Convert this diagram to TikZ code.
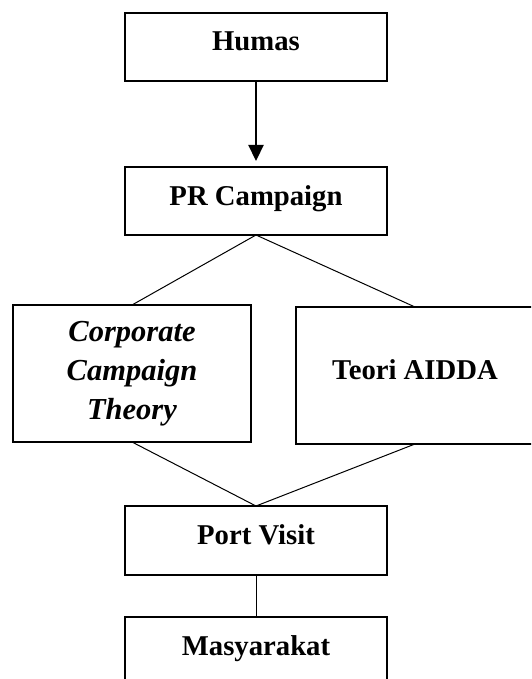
\documentclass[tikz,border=0pt]{standalone}
\usepackage{fontspec}
\setmainfont{Liberation Serif}
\usetikzlibrary{positioning,arrows.meta}

\begin{document}
\begin{tikzpicture}[
    x=1pt, y=-1pt,
    node distance=42pt,
    >={Triangle[width=15pt,length=16pt]},
    line width=1pt
]


\tikzstyle{box}=[
    rectangle,
    draw,
    line width=1.8pt,
    inner sep=0pt,
    outer sep=0pt,
    font=\fontsize{28.7}{38.8}\selectfont\bfseries
]
\tikzstyle{stage}=[
    box,
    minimum width=262pt,
    minimum height=68pt,
    text height=20pt,
    text depth=12pt
]
\tikzstyle{theory}=[
    box,
    minimum width=238pt,
    minimum height=137pt,
    align=center
]


\useasboundingbox (0,0) rectangle (531,679);
\clip (0,0) rectangle (531,679);
\fill[white] (0,0) rectangle (531,679);


\node[stage] (humas) at (256,47) {Humas};
\node[stage, below=86pt of humas] (pr) {PR Campaign};

\node[theory, anchor=north, font=\fontsize{30.5}{39}\selectfont\bfseries\itshape] (corp) at (132,305) {Corporate\\Campaign\\Theory};
\node[theory, anchor=north, text height=20pt, text depth=12pt] (aidda) at (415,307) {Teori AIDDA};

\node[stage, anchor=north, minimum height=69pt] (port) at (256,506) {Port Visit};
\node[stage, below=of port] (masy) {Masyarakat};


\draw[->, line width=2.2pt, shorten >=6pt] (humas) -- (pr);

\draw (pr.south) -- (corp.north);
\draw (pr.south) -- (aidda.north);
\draw (corp.south) -- (port.north);
\draw (aidda.south) -- (port.north);
\draw (port) -- (masy);

\end{tikzpicture}
\end{document}
